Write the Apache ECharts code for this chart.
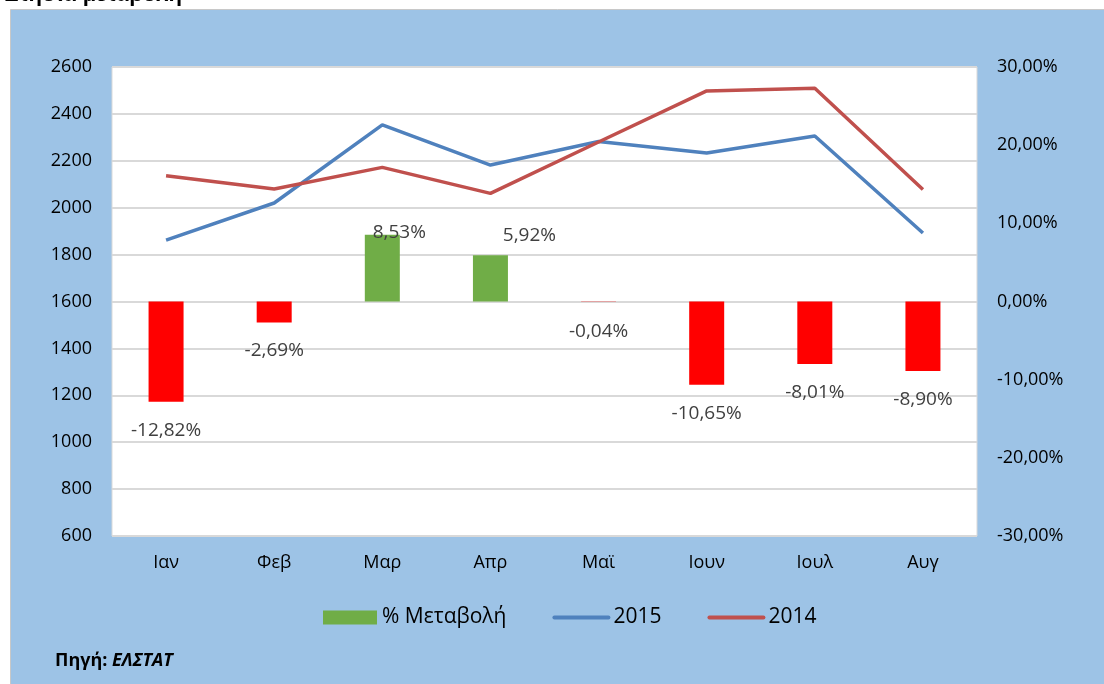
<!doctype html>
<html>
<head>
<meta charset="utf-8">
<title>Μεταβολή 2015 - 2014</title>
<script src="https://cdn.jsdelivr.net/npm/echarts@6/dist/echarts.min.js"></script>
<style>
html,body{margin:0;padding:0;background:#fff;}
#chart{width:1104px;height:684px;}
</style>
</head>
<body>
<div id="chart"></div>
<script>
// δεδομένα
var months = ['Ιαν','Φεβ','Μαρ','Απρ','Μαϊ','Ιουν','Ιουλ','Αυγ'];
var y2015 = [1862, 2020, 2353, 2182, 2282, 2233, 2306, 1892];
var y2014 = [2136, 2080, 2172, 2061, 2280, 2498, 2509, 2078];
var change = [-12.82, -2.69, 8.53, 5.92, -0.04, -10.65, -8.01, -8.90];
var leftTicks = {min: 600, max: 2600, step: 200};
var rightTicks = {min: -30, max: 30, step: 10};

// θέση ετικετών (όπως μετακινήθηκαν στο excel)
var labelShift = [[0,14],[0,14],[17,12],[39,-5],[0,15],[0,14],[0,14],[0,14]];

var myChart = echarts.init(document.getElementById('chart'), null, {renderer:'canvas'});
var font = '"Open Sans", "Noto Sans", sans-serif';

function pct(v){ return v.toFixed(2).replace('.', ',') + '%'; }

var barData = [];
for (var i = 0; i < change.length; i++) {
  barData.push({
    value: change[i],
    itemStyle: {color: change[i] >= 0 ? '#70AD47' : '#FF0000'},
    label: {
      position: change[i] >= 0 ? 'top' : 'bottom',
      offset: labelShift[i]
    }
  });
}

myChart.setOption({
  animation: false,
  backgroundColor: '#fff',
  textStyle: {fontFamily: font},
  graphic: [
    {type:'rect', left:10, top:9, shape:{width:1094, height:675},
     style:{fill:'#9DC3E6', stroke:'#C8C8C8', lineWidth:1}, z:-10},
    {type:'text', left:4, top:-16,
     style:{text:'Ετήσια μεταβολή', font:'bold 22px "Liberation Sans", sans-serif', fill:'#000'}},
    {type:'text', left:55, top:652,
     style:{
       text:'{a|Πηγή: }{b|ΕΛΣΤΑΤ}',
       rich:{
         a:{fontFamily:font, fontWeight:'bold', fontSize:18, fill:'#000'},
         b:{fontFamily:font, fontWeight:'bold', fontStyle:'italic', fontSize:18, fill:'#000'}
       }
     }}
  ],
  grid: {
    left: 112, right: 127, top: 67, bottom: 148,
    show: true, backgroundColor: '#fff', borderColor: '#D9D9D9', borderWidth: 1
  },
  legend: {
    left: 318, top: 602,
    itemWidth: 54, itemHeight: 14, itemGap: 46,
    textStyle: {fontFamily: font, fontSize: 21, color: '#000'},
    data: [
      {name:'% Μεταβολή', icon:'rect', itemStyle:{color:'#70AD47'}},
      {name:'2015', itemStyle:{opacity:0}, lineStyle:{width:4, cap:'round'}},
      {name:'2014', itemStyle:{opacity:0}, lineStyle:{width:4, cap:'round'}}
    ]
  },
  xAxis: {
    type: 'category',
    data: months,
    axisLine: {show: false},
    axisTick: {show: false},
    axisLabel: {color:'#000', fontSize:18, margin:18, fontFamily: font}
  },
  yAxis: [
    {
      type: 'value', min: leftTicks.min, max: leftTicks.max, interval: leftTicks.step,
      axisLine: {show:false}, axisTick: {show:false},
      axisLabel: {color:'#000', fontSize:18, margin:20, fontFamily: font,
        formatter: function(v){ return String(v); }},
      splitLine: {lineStyle: {color:'#D9D9D9', width:2}}
    },
    {
      type: 'value', min: rightTicks.min, max: rightTicks.max, interval: rightTicks.step,
      axisLine: {show:false}, axisTick: {show:false},
      axisLabel: {color:'#000', fontSize:18, margin:20, fontFamily: font,
        formatter: function(v){ return pct(v); }},
      splitLine: {show:false}
    }
  ],
  series: [
    {
      name: '% Μεταβολή',
      type: 'bar',
      yAxisIndex: 1,
      barWidth: 35,
      data: barData,
      label: {
        show: true,
        color: '#404040',
        fontSize: 19,
        fontFamily: font,
        formatter: function(p){ return pct(p.value); }
      }
    },
    {
      name: '2015',
      type: 'line',
      data: y2015,
      showSymbol: false,
      symbol: 'none',
      lineStyle: {color:'#4F81BD', width:3.5},
      itemStyle: {color:'#4F81BD'},
      z: 3
    },
    {
      name: '2014',
      type: 'line',
      data: y2014,
      showSymbol: false,
      symbol: 'none',
      lineStyle: {color:'#C0504D', width:3.5},
      itemStyle: {color:'#C0504D'},
      z: 3
    }
  ]
});
</script>
</body>
</html>
